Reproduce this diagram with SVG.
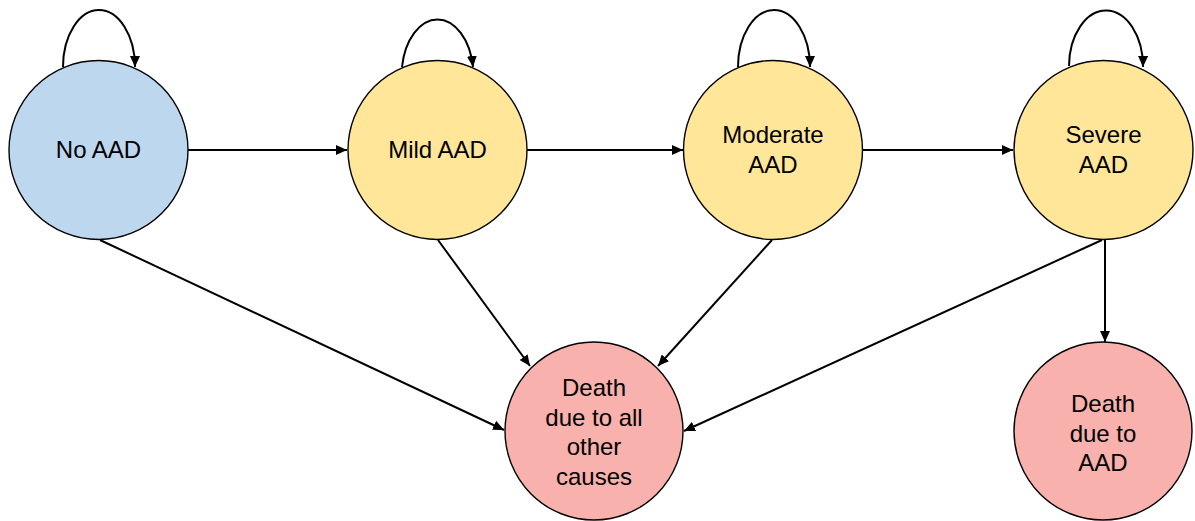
<svg xmlns="http://www.w3.org/2000/svg" width="1195" height="521" viewBox="0 0 1195 521">
<style>
.n{stroke:#000;stroke-width:1.4}
.blue{fill:#bdd7ee}
.yel{fill:#ffe699}
.red{fill:#f8b1ac}
.t{font-family:"Liberation Sans",Arial,sans-serif;font-size:24px;fill:#000;text-anchor:middle}
.c{fill:none;stroke:#000;stroke-width:2;marker-end:url(#ah)}
</style>
<defs>
<marker id="ah" markerUnits="userSpaceOnUse" markerWidth="12" markerHeight="10" refX="11" refY="5" orient="auto">
<path d="M0,0 L11,5 L0,10 z" fill="#000"/>
</marker>
</defs>
<rect width="1195" height="521" fill="#fff"/>
<g id="connectors">
<path class="c" d="M63,67 A36 57 0 0 1 135,67"/>
<path class="c" d="M402,67 A36 57 0 0 1 473,67"/>
<path class="c" d="M738,67 A36 57 0 0 1 810,67"/>
<path class="c" d="M1069,66 A37 56 0 0 1 1143,67"/>
<path class="c" d="M188,150 L347,150"/>
<path class="c" d="M527,150 L683,150"/>
<path class="c" d="M862,150 L1013,150"/>
<path class="c" d="M100,240 L504,430"/>
<path class="c" d="M438,240 L530,366"/>
<path class="c" d="M772,240 L658,366"/>
<path class="c" d="M1102,240 L684,431"/>
<path class="c" d="M1105,238 L1105,342"/>
</g>
<g id="no-aad">
<circle class="n blue" cx="98.5" cy="150" r="89.5"/>
<text class="t" x="98.5" y="158">No AAD</text>
</g>
<g id="mild-aad">
<circle class="n yel" cx="437.5" cy="150" r="89.5"/>
<text class="t" x="437.5" y="158">Mild AAD</text>
</g>
<g id="moderate-aad">
<circle class="n yel" cx="773" cy="150" r="89.5"/>
<text class="t" x="773" y="143">Moderate</text>
<text class="t" x="773" y="173">AAD</text>
</g>
<g id="severe-aad">
<circle class="n yel" cx="1103.5" cy="150" r="89.5"/>
<text class="t" x="1103.5" y="143">Severe</text>
<text class="t" x="1103.5" y="173">AAD</text>
</g>
<g id="death-other">
<circle class="n red" cx="594" cy="431" r="89"/>
<text class="t" x="594" y="396">Death</text>
<text class="t" x="594" y="426">due to all</text>
<text class="t" x="594" y="455">other</text>
<text class="t" x="594" y="485">causes</text>
</g>
<g id="death-aad">
<circle class="n red" cx="1103" cy="431" r="89"/>
<text class="t" x="1103" y="412">Death</text>
<text class="t" x="1103" y="442">due to</text>
<text class="t" x="1103" y="471">AAD</text>
</g>
</svg>
